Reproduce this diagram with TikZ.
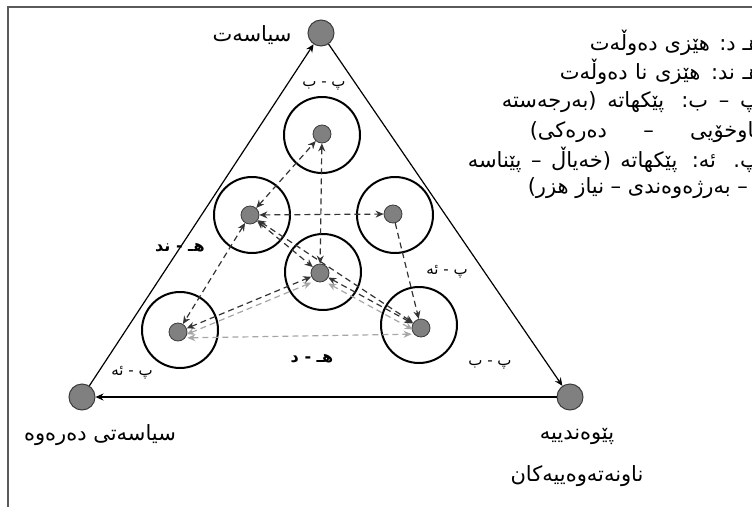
\documentclass[tikz,border=0pt]{standalone}
\usepackage{fontspec}
\usetikzlibrary{arrows.meta}
\TeXXeTstate=1
\newfontfamily\ku[Script=Arabic]{DejaVu Sans}
\definecolor{dotgray}{HTML}{808080}
\definecolor{dotedge}{HTML}{3C3C3C}
\definecolor{dkdash}{HTML}{333333}
\definecolor{ltdash}{HTML}{A6A6A6}
\definecolor{framegray}{HTML}{5A5A5A}
\begin{document}
\begin{tikzpicture}[x=1pt,y=-1pt,
  bigdot/.style={circle,draw=dotedge,fill=dotgray,line width=1pt,minimum size=26pt,inner sep=0pt},
  smalldot/.style={circle,draw=dotedge,fill=dotgray,line width=0.8pt,minimum size=18pt,inner sep=0pt},
  ring/.style={circle,draw=black,line width=2pt,minimum size=76pt,inner sep=0pt},
  side/.style={draw=black,line width=1.2pt,-{Stealth[length=8pt,width=7pt]}},
  dk/.style={draw=dkdash,line width=1.2pt,dash pattern=on 6pt off 4pt,
     {Stealth[length=8pt,width=7pt,fill=dkdash]}-{Stealth[length=8pt,width=7pt,fill=dkdash]}},
  dkone/.style={draw=dkdash,line width=1.2pt,dash pattern=on 6pt off 4pt,
     -{Stealth[length=8pt,width=7pt,fill=dkdash]}},
  lt/.style={draw=ltdash,line width=1.2pt,dash pattern=on 6pt off 4pt,
     {Stealth[length=8pt,width=7pt,fill=ltdash]}-{Stealth[length=8pt,width=7pt,fill=ltdash]}},
  vlabel/.style={font=\fontsize{21}{24}\selectfont\ku,inner sep=0pt},
  elabel/.style={font=\fontsize{15}{17}\selectfont\ku,inner sep=0pt},
  blabel/.style={font=\fontsize{16}{18}\selectfont\ku\bfseries,inner sep=0pt},
  legend/.style={font=\fontsize{21}{24}\selectfont\ku,inner sep=0pt,anchor=east}
]
\useasboundingbox (0,0) rectangle (752,506);
% frame
\draw[framegray,line width=1.3pt] (760,7) -| (8,512);

% vertices
\node[bigdot] (T) at (321,33) {};
\node[bigdot] (BL) at (82,397) {};
\node[bigdot] (BR) at (570,397) {};
\draw[side] (BL) -- (T);
\draw[side] (T) -- (BR);
\draw[side] (BR) -- (BL);

% rings
\node[ring] (RT) at (322,135) {};
\node[ring] (RML) at (252,215) {};
\node[ring] (RMR) at (395,215) {};
\node[ring] (RC) at (323,272) {};
\node[ring] (RBL) at (180,330) {};
\node[ring] (RBR) at (419,325) {};

% dots
\node[smalldot] (DT) at (322,134) {};
\node[smalldot] (DML) at (250,215) {};
\node[smalldot] (DMR) at (393,214) {};
\node[smalldot] (DC) at (320,273) {};
\node[smalldot] (DBL) at (178,332) {};
\node[smalldot] (DBR) at (421,328) {};

% light dashed links
\draw[lt,transform canvas={yshift=-6pt}] (DBL) -- (DBR);
\draw[lt,transform canvas={yshift=-6pt}] (DBL) -- (DC);
\draw[lt,transform canvas={yshift=-6pt}] (DC) -- (DBR);
% dark dashed links
\draw[dk] (DML) -- (DT);
\draw[dk] (DT) -- (DC);
\draw[dk] (DML) -- (DMR);
\draw[dk] (DML) -- (DC);
\draw[dk] (DML) -- (DBR);
\draw[dk] (DML) -- (DBL);
\draw[dkone] (DMR) -- (DBR);
\draw[dk] (DBL) -- (DC);
\draw[dk] (DC) -- (DBR);

% vertex labels
\node[vlabel] (lT) at (252,35) {\beginR سیاسەت\endR};
\node[vlabel] (lBL) at (100,435) {\beginR سیاسەتی دەرەوە\endR};
\node[vlabel] (lBR1) at (577,436) {\beginR پێوەندییە\endR};
\node[vlabel] (lBR2) at (577,476) {\beginR ناونەتەوەییەکان\endR};

% edge labels
\node[elabel] (e1) at (324,86) {\beginR پ - ب\endR};
\node[blabel] (e2) at (180,248) {\beginR هـ - ند\endR};
\node[elabel] (e3) at (132,373) {\beginR پ - ئە\endR};
\node[blabel] (e4) at (312,359) {\beginR هـ - د\endR};
\node[elabel] (e5) at (447,272) {\beginR پ - ئە\endR};
\node[elabel] (e6) at (490,365) {\beginR پ - ب\endR};

% legend
\node[legend] (g1) at (760,43) {\makebox[170pt][s]{\beginR هـ د: هێزی دەوڵەت\endR}};
\node[legend] (g2) at (760,72) {\makebox[200pt][s]{\beginR هـ ند: هێزی نا دەوڵەت\endR}};
\node[legend] (g3) at (760,102) {\makebox[258pt][s]{\beginR پ – ب: پێکهاتە (بەرجەستە\endR}};
\node[legend] (g4) at (760,132) {\makebox[230pt][s]{\beginR ناوخۆیی – دەرەکی)\endR}};
\node[legend] (g5) at (760,160) {\makebox[292pt][s]{\beginR پ. ئە: پێکهاتە (خەیاڵ – پێناسە\endR}};
\node[legend] (g6) at (748,188) {\makebox[220pt][s]{\beginR – بەرژەوەندی – نیاز هزر)\endR}};
\end{tikzpicture}
\end{document}
